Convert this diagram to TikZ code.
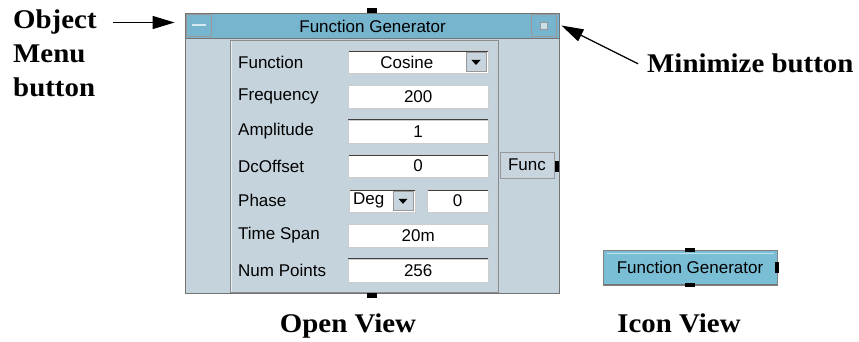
\documentclass[tikz,border=0pt]{standalone}
\usepackage{fontspec}
\setmainfont{Liberation Serif}
\newfontfamily\guisans{Liberation Sans}
\newfontfamily\calloutfont{Liberation Serif}[FakeStretch=1.07]
\usetikzlibrary{calc,arrows.meta,positioning}
\definecolor{panelbg}{RGB}{197,211,220}
\definecolor{titlebg}{RGB}{118,181,205}
\definecolor{iconbg}{RGB}{122,190,214}
\definecolor{btnbg}{RGB}{200,213,222}
\tikzset{
  gui/.style={font=\guisans\fontsize{17}{19}\selectfont, inner sep=0pt},
  lbl/.style={gui, anchor=west},
  callout/.style={font=\calloutfont\bfseries\fontsize{27}{32}\selectfont, inner sep=0pt},
  win/.style={draw=black!55, line width=1.2pt, fill=panelbg},
  panel/.style={draw=black!45, line width=1pt, fill=panelbg},
  raised/.style={draw=black!40, line width=0.8pt},
  field/.style={gui, fill=white, draw=black!20, minimum width=140pt, minimum height=23pt,
    path picture={\draw[black!75, line width=2.4pt] (path picture bounding box.south west)
      -- (path picture bounding box.north west) -- (path picture bounding box.north east);}},
  ddbtn/.style={raised, fill=btnbg, minimum width=20pt, minimum height=19pt, inner sep=0pt},
  tab/.style={fill=black, inner sep=0pt},
  pointer/.style={-{Triangle[length=22pt,width=13pt]}, line width=1.2pt},
}

\begin{document}
\begin{tikzpicture}[x=1pt, y=-1pt]
  \useasboundingbox (0,0) rectangle (859,342);

  %% ==================
  %% Open view
  %% ==================
  \node[win, anchor=north west, minimum width=374pt, minimum height=280pt] (win) at (185,13) {};
  \node[panel, anchor=north west, minimum width=268pt, minimum height=252pt] (panel) at (230,40) {};
  \draw[white!60!panelbg, line width=1pt] ([xshift=1pt,yshift=-1pt]panel.north west) -- ([xshift=1pt,yshift=1pt]panel.south west);

  % title bar with its two buttons
  \node[win, fill=titlebg, anchor=north west, minimum width=374pt, minimum height=25pt] (title) at (185,13) {};
  \node[gui] (titletxt) at (title.center) {Function Generator};
  \node[raised, fill=titlebg, minimum width=25pt, minimum height=22pt] (menubtn) at (199,25.5) {};
  \node[raised, fill=titlebg, minimum width=25pt, minimum height=22pt] (minbtn) at (544,25.5) {};
  \fill[white!70!titlebg] ($(menubtn.center)+(-7,-1)$) rectangle +(14,2);
  \node[raised, fill=white!60!titlebg, minimum size=7pt, inner sep=0pt] (minicon) at (minbtn.center) {};

  % connector tabs
  \node[tab, minimum width=10pt, minimum height=5pt] (tabtop) at (372,10.5) {};
  \node[tab, minimum width=10pt, minimum height=5pt] (tabbot) at (372,295.5) {};

  % parameter rows
  \node[lbl] (lbl0) at (238,62) {Function};
  \node[field, anchor=west] (fld0) at (348,62) {};
  \node[ddbtn, anchor=east] (dd0) at ([xshift=-2pt]fld0.east) {};
  \node[gui] (val0) at ($(fld0.west)!0.5!(dd0.west)$) {Cosine};

  \foreach \i/\lab/\val in {1/Frequency/200, 2/Amplitude/1, 3/DcOffset/0, 5/Time Span/20m, 6/Num Points/256}{
    \node[lbl] (lbl\i) at (238,62+34.7*\i) {\lab};
    \node[field, anchor=west] (fld\i) at (348,62+34.7*\i) {\val};
  }

  \node[lbl] (lbl4) at (238,200.8) {Phase};
  \node[field, anchor=west, minimum width=66pt] (fld4) at (349,200.8) {};
  \node[gui, anchor=west] (unit4) at ([xshift=4pt]fld4.west) {Deg};
  \node[ddbtn, anchor=east] (dd4) at ([xshift=-2pt]fld4.east) {};
  \node[field, anchor=west, minimum width=61pt] (val4) at (427,200.8) {0};

  % drop-down arrows
  \foreach \d in {dd0,dd4}
    \fill ($(\d.center)+(-4.5,-2)$) -- +(9,0) -- +(4.5,5) -- cycle;

  % output terminal
  \node[gui, raised, fill=btnbg, minimum width=54pt, minimum height=26pt] (func) at (527,165) {Func};
  \node[tab, minimum width=4pt, minimum height=11pt] (tabfunc) at (557,166) {};

  %% ==================
  %% Icon view
  %% ==================
  \node[gui, fill=iconbg, draw=black!50, line width=1pt, minimum width=174pt, minimum height=35pt] (icon) at (690,267.5) {Function Generator};
  \draw[white!55!iconbg, line width=1.5pt] ([xshift=4pt,yshift=-4pt]icon.north west) -- ([xshift=-4pt,yshift=-4pt]icon.north east);
  \draw[black!55, line width=1.5pt] ([xshift=1pt,yshift=1pt]icon.south west) -- ([xshift=-1pt,yshift=1pt]icon.south east);
  \node[tab, minimum width=10pt, minimum height=4pt] (itabtop) at (690,250) {};
  \node[tab, minimum width=10pt, minimum height=4pt] (itabbot) at (690,285) {};
  \node[tab, minimum width=4pt, minimum height=11pt] (itabr) at (777,267) {};

  %% ==================
  %% Callouts
  %% ==================
  \node[callout, anchor=base west] (objlbl) at (13,29) {Object};
  \node[callout, anchor=base west] (menulbl) at (13,63) {Menu};
  \node[callout, anchor=base west] (btnlbl) at (13,97) {button};
  \draw[pointer] ([xshift=16pt]objlbl.east) -- ([xshift=-11.5pt]menubtn.west |- objlbl.east);

  \node[callout, anchor=base west] (minlbl) at (647,73) {Minimize button};
  \draw[pointer] ([xshift=-9pt]minlbl.west) -- ([xshift=4.5pt]minbtn.east);

  \node[callout, anchor=base] (openlbl) at (348,332) {Open View};
  \node[callout, anchor=base] (iconlbl) at (679,332) {Icon View};
\end{tikzpicture}
\end{document}
